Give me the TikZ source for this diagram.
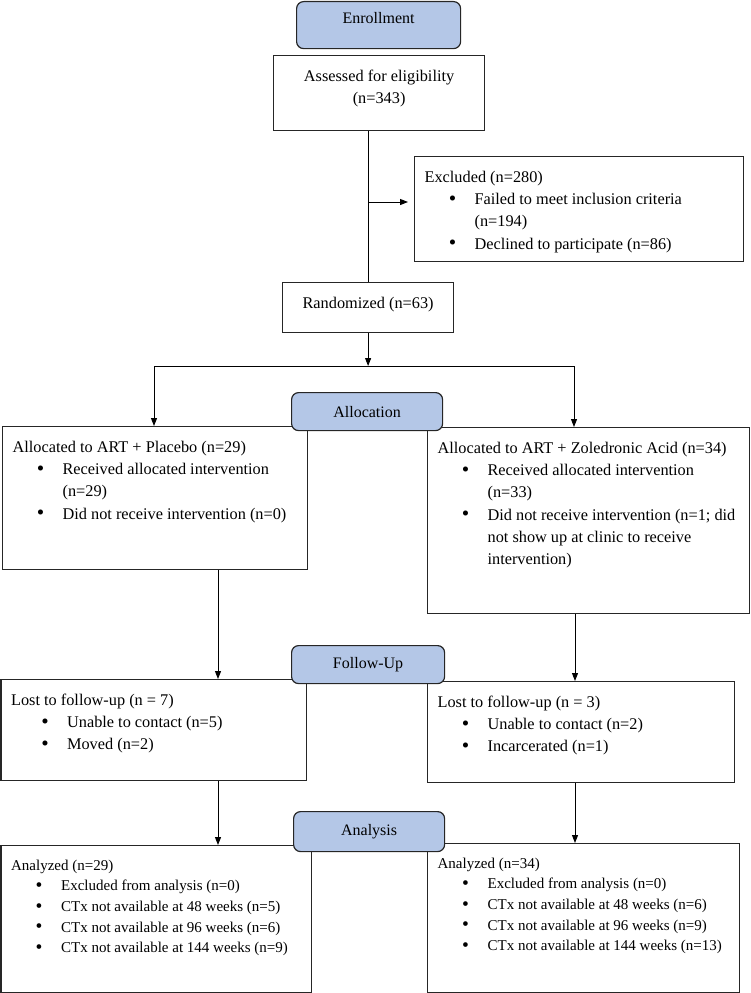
\documentclass[tikz,border=0pt]{standalone}
\usepackage{fontspec}
\setmainfont{Liberation Serif}
\usetikzlibrary{arrows.meta}

\definecolor{phaseblue}{HTML}{B4C7E7}
\newcommand{\boxtext}[3]{\parbox[t][#2][t]{#1}{#3}}
\newcommand{\hd}[1]{\strut\mbox{#1}}
\newcommand{\bul}[2][25pt]{\par\mbox{\hspace*{#1}\makebox[6pt][c]{\raisebox{-0.6pt}{\scalebox{1.3}{\textbullet}}}\hspace*{19pt}#2}}
\newcommand{\cont}[1]{\par\mbox{\hspace*{50pt}#1}}

\begin{document}
\begin{tikzpicture}[x=1pt,y=-1pt,>={Triangle[length=8pt,width=6pt]},line width=1pt,
  box/.style={draw=black!85,line width=1.2pt,anchor=north west,inner sep=10pt,font=\fontsize{16.3}{22.3}\selectfont},
  small/.style={font=\fontsize{15}{20.7}\selectfont},
  phase/.style={draw=black!85,line width=1.2pt,fill=phaseblue,rounded corners=7pt,anchor=north west,inner sep=0pt,font=\fontsize{16}{22}\selectfont}]

\useasboundingbox (0,0) rectangle (750,993);

\node[box] (assess) at (273,55) {\boxtext{191pt}{55pt}{\centering\hd{Assessed for eligibility}\par(n=343)}};
\node[box] (excl) at (414,156) {\boxtext{309pt}{85pt}{\hd{Excluded (n=280)}
  \bul{Failed to meet inclusion criteria}\cont{(n=194)}
  \bul{Declined to participate (n=86)}}};
\node[box] (rand) at (282,282) {\boxtext{151pt}{30pt}{\centering\hd{Randomized (n=63)}}};

\node[box] (allocL) at (2,426) {\boxtext{285pt}{123pt}{\hd{Allocated to ART + Placebo (n=29)}
  \bul{Received allocated intervention}\cont{(n=29)}
  \bul{Did not receive intervention (n=0)}}};
\node[box] (allocR) at (427,427) {\boxtext{302pt}{166pt}{\hd{Allocated to ART + Zoledronic Acid (n=34)}
  \bul{Received allocated intervention}\cont{(n=33)}
  \bul{Did not receive intervention (n=1; did}\cont{not show up at clinic to receive}\cont{intervention)}}};

\node[box] (lostL) at (0.5,679) {\boxtext{285pt}{81pt}{\hd{Lost to follow-up (n = 7)}
  \bul[31pt]{Unable to contact (n=5)}
  \bul[31pt]{Moved (n=2)}}};
\node[box] (lostR) at (427,681) {\boxtext{287pt}{81pt}{\hd{Lost to follow-up (n = 3)}
  \bul{Unable to contact (n=2)}
  \bul{Incarcerated (n=1)}}};

\node[box,small] (anaL) at (0.5,845) {\boxtext{290pt}{127pt}{\hd{Analyzed (n=29)}
  \bul{Excluded from analysis (n=0)}
  \bul{CTx not available at 48 weeks (n=5)}
  \bul{CTx not available at 96 weeks (n=6)}
  \bul{CTx not available at 144 weeks (n=9)}}};
\node[box,small] (anaR) at (427,843) {\boxtext{292pt}{129pt}{\hd{Analyzed (n=34)}
  \bul{Excluded from analysis (n=0)}
  \bul{CTx not available at 48 weeks (n=6)}
  \bul{CTx not available at 96 weeks (n=9)}
  \bul{CTx not available at 144 weeks (n=13)}}};

% connectors
\coordinate (tap) at (rand.north |- 0,202);
\coordinate (forkL) at (154,366);
\coordinate (forkR) at (574,366);
\coordinate (fork) at (rand.south |- forkL);
\coordinate (colL) at (218,0);
\coordinate (colR) at (575,0);

\draw (assess.south -| rand.north) -- (rand.north);
\draw[->,shorten >=6pt] (tap) -- (tap -| excl.west);
\draw[->] (rand) -- (fork);
\draw (forkL) -- (forkR);
\draw[->] (forkL) -- (forkL |- allocL.north);
\draw[->] (forkR) -- (forkR |- allocR.north);
\draw[->] (allocL.south -| colL) -- (lostL.north -| colL);
\draw[->] (allocR.south -| colR) -- (lostR.north -| colR);
\draw[->] (lostL.south -| colL) -- (anaL.north -| colL);
\draw[->] (lostR.south -| colR) -- (anaR.north -| colR);

% phase headers
\node[phase,minimum width=164pt,minimum height=47pt,text height=21pt,text depth=24pt] (enroll) at (296,1) {Enrollment};
\node[phase,minimum width=151pt,minimum height=38pt] (allocH) at (291,392) {Allocation};
\node[phase,minimum width=153pt,minimum height=38pt] (followH) at (291,645) {Follow-Up};
\node[phase,minimum width=151pt,minimum height=40pt] (anaH) at (293,811) {Analysis};
\end{tikzpicture}
\end{document}
